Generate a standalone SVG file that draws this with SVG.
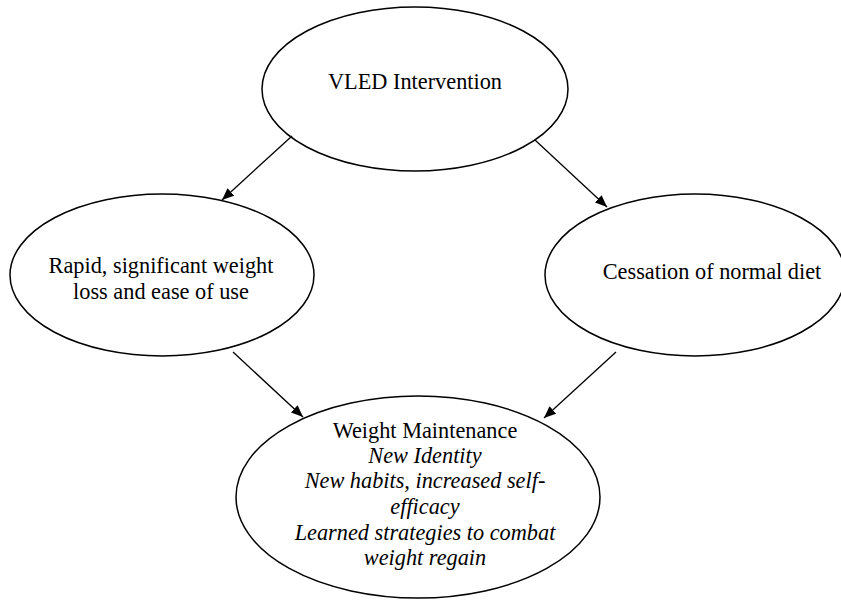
<svg xmlns="http://www.w3.org/2000/svg" width="841" height="600" viewBox="0 0 841 600">
<style>
.n{fill:#fff;stroke:#000;stroke-width:1.5}
.t{font-family:"Liberation Serif","Times New Roman",serif;font-size:22.3px;fill:#000;text-anchor:middle}
.i{font-style:italic}
.c{stroke:#000;stroke-width:1.3;fill:none;marker-end:url(#ah)}
</style>
<defs>
<marker id="ah" viewBox="0 0 12 10" refX="12" refY="5" markerWidth="12" markerHeight="10" markerUnits="userSpaceOnUse" orient="auto">
<path d="M0,0 L12,5 L0,10 Z" fill="#000"/>
</marker>
</defs>
<rect width="841" height="600" fill="#fff"/>
<g id="vled">
<ellipse class="n" cx="415" cy="89" rx="153" ry="82"/>
<text class="t" x="415" y="89">VLED Intervention</text>
</g>
<g id="rapid">
<ellipse class="n" cx="162" cy="275" rx="152" ry="81"/>
<text class="t" x="161" y="273">Rapid, significant weight</text>
<text class="t" x="161" y="299">loss and ease of use</text>
</g>
<g id="cessation">
<ellipse class="n" cx="695" cy="275" rx="150" ry="81"/>
<text class="t" x="712" y="279">Cessation of normal diet</text>
</g>
<g id="maintenance">
<ellipse class="n" cx="418" cy="497" rx="182" ry="101"/>
<text class="t" x="425" y="438">Weight Maintenance</text>
<text class="t i" x="425" y="463">New Identity</text>
<text class="t i" x="425" y="488">New habits, increased self-</text>
<text class="t i" x="425" y="514">efficacy</text>
<text class="t i" x="425" y="540">Learned strategies to combat</text>
<text class="t i" x="425" y="565">weight regain</text>
</g>
<g id="connectors">
<line class="c" x1="292" y1="136" x2="222" y2="200"/>
<line class="c" x1="535" y1="140" x2="607" y2="207"/>
<line class="c" x1="233" y1="352" x2="303" y2="417"/>
<line class="c" x1="616" y1="352" x2="544" y2="418"/>
</g>
</svg>
